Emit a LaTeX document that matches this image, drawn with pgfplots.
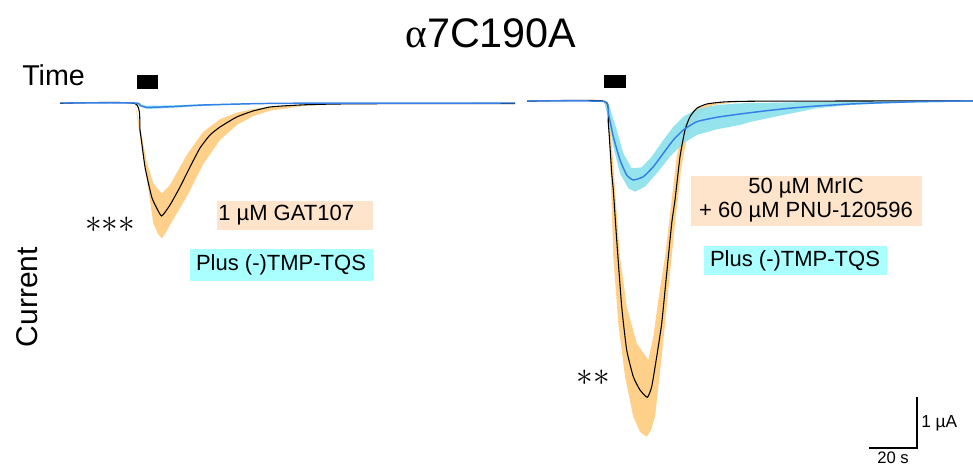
\documentclass[border=0pt]{standalone}
\usepackage{pgfplots}
\pgfplotsset{compat=1.18}
\usepackage{fontspec}
\setmainfont{Liberation Sans}
\newfontfamily\greekserif{Liberation Serif}
\definecolor{bandorange}{HTML}{FFD08A}
\definecolor{bandcyan}{HTML}{8CE1EC}
\definecolor{boxpeach}{HTML}{FDE4CA}
\definecolor{boxcyan}{HTML}{AAFFFF}
\definecolor{traceblue}{HTML}{3580E6}
\begin{document}
\begin{tikzpicture}
\useasboundingbox (0,0) rectangle (729.75pt,348.75pt);
\begin{axis}[at={(0,0)}, anchor=south west, scale only axis,
  width=729.75pt, height=348.75pt,
  xmin=0, xmax=973, ymin=0, ymax=465, y dir=reverse,
  hide axis, clip=false]

% ---------- left panel ----------
% orange band (GAT107)
\addplot[draw=none, fill=bandorange] coordinates {
 (135,103.3) (140,136.7) (146.7,178.3) (153.3,223.3) (158,234) (161.7,238.3) (165,234) (170,225)
 (186.7,196.7) (203.3,164) (220,140) (236.7,125) (253.3,116) (270,110.7)
 (303.3,106) (336.7,104) (380,103.3)
 (336.7,103.5) (303.3,104.7) (270,106.7) (253.3,109) (236.7,112.7) (220,119.3)
 (203.3,131.7) (186.7,155) (170,185) (161.7,193.3) (153.3,183.3) (146.7,161.7)
 (140,126.7)} -- cycle;
% cyan band (plus TMP-TQS)
\addplot[draw=none, fill=bandcyan] coordinates {
 (135,103) (146.7,105.8) (170,105.4) (203,104.3) (253,103.3)
 (253,104.1) (203,105.9) (170,108) (146.7,109) (135,103.6)} -- cycle;
% black mean trace
\addplot[black, line width=0.8pt, smooth, tension=0.3] coordinates {
 (60,103.3) (135,103.5) (140,130) (145,167) (151.7,197) (156.7,208) (161.7,216)
 (170,205) (180,187) (190,167) (200,148) (210,135) (220,127) (236.7,117)
 (253,111) (270,107) (286.7,105.7) (306.7,104.7) (336.7,104) (400,103.6) (515,103.5)};
% blue mean trace
\addplot[traceblue, line width=1.1pt, smooth, tension=0.3] coordinates {
 (60,103) (135,103) (140,105.5) (146.7,107.3) (170,106.7) (203,105)
 (253,103.7) (300,103.2) (515,103)};
% stimulus bar
\addplot[draw=none, fill=black] coordinates {(137,75) (158,75) (158,89) (137,89)} -- cycle;

% ---------- right panel ----------
% orange band (MrIC + PNU)
\addplot[draw=none, fill=bandorange] coordinates {
 (604,101) (607,112) (609,135) (610.5,170) (611.5,200) (613.3,256.7)
 (618.3,323.3) (625,376.7) (633.3,416.7) (640,432) (646.7,436.7) (651,430)
 (655,416.7) (661.7,356.7) (668.3,290) (675,223.3) (678.3,195) (681,170)
 (683.3,156.7) (686,142) (690,130) (700,113.3) (713.3,105) (740,101.7) (780,101)
 (760,101.1) (710,103.3) (693.3,110) (683.3,126.7) (676.7,156.7) (671.7,200)
 (665,256.7) (658.3,300) (653.3,336.7) (648.3,360) (636.7,343.3) (626.7,306.7)
 (620,256.7) (615,190) (613,160) (610.5,130) (608,112) (605,102)} -- cycle;
% cyan band (plus TMP-TQS)
\addplot[draw=none, fill=bandcyan, fill opacity=0.92] coordinates {
 (604,101) (610,108.3) (616.7,130) (623.3,153.3) (631.7,168.3) (641.7,167.3)
 (651.7,156.7) (663.3,140) (673.3,126.7) (683.3,116.7) (696.7,109.3) (716.7,105)
 (740,103.3) (773,102.7) (806.7,102) (880,101) (973,100.3)
 (973,101.5) (916.7,102.5) (883,103.5) (850,105) (816.7,108.3) (783,115)
 (750,122) (740,125) (716.7,129.3) (696.7,135) (683.3,143.3) (670,156.7)
 (656.7,173.3) (645,186.7) (635,191.7) (628.3,188.3) (620,173.3) (613.3,146.7)
 (608.3,118.3) (604,101.7)} -- cycle;
% black mean trace
\addplot[black, line width=0.8pt, smooth, tension=0.3] coordinates {
 (527,101.2) (604,101.2) (608.3,123.3) (611.7,173.3) (613.3,190) (616.7,240)
 (621.7,306.7) (626.7,350) (633.3,376.7) (640,390) (647.3,397.3) (651.7,386.7)
 (656.7,356.7) (661.7,323.3) (666.7,273.3) (671.7,223.3) (675,200) (680,156.7)
 (685,130) (690,116.7) (696.7,108.3) (706.7,104) (723.3,102) (756.7,101.2) (973,100.8)};
% blue mean trace
\addplot[traceblue, line width=1.1pt, smooth, tension=0.3] coordinates {
 (527,101) (604,101.5) (608.3,113.3) (613.3,136.7) (620,160) (626.7,175)
 (633.3,180) (643.3,176.7) (653.3,166.7) (663.3,153.3) (673.3,140) (683.3,130)
 (696.7,121.7) (716.7,117.3) (740,114) (766.7,110.7) (790,108.2) (816.7,106)
 (850,104) (883,102.7) (916.7,101.7) (973,100.8)};
% stimulus bar
\addplot[draw=none, fill=black] coordinates {(604,75) (626,75) (626,88) (604,88)} -- cycle;

% ---------- scale bar ----------
\addplot[black, line width=1pt] coordinates {(869,448) (917,448) (917,397)};
\node[anchor=west, font=\fontsize{13}{15}\selectfont, inner sep=0pt] at (axis cs:921,423) {1 µA};
\node[anchor=base, font=\fontsize{12.5}{14}\selectfont, inner sep=0pt] at (axis cs:893,463) {20 s};

% ---------- labels ----------
\fill[boxpeach] (axis cs:217,201) rectangle (axis cs:373,230);
\node[anchor=west, inner sep=0pt, font=\fontsize{16.5}{19}\selectfont] at (axis cs:218,215.5) {1 µM GAT107};
\fill[boxcyan] (axis cs:190,249) rectangle (axis cs:373,281);
\node[anchor=center, inner sep=0pt, font=\fontsize{16.5}{19}\selectfont] at (axis cs:281,265) {Plus (-)TMP-TQS};
\fill[boxpeach] (axis cs:691,176) rectangle (axis cs:922,226);
\node[anchor=center, inner sep=0pt, align=center, font=\fontsize{16.5}{18}\selectfont] at (axis cs:806,200) {50 µM MrIC\\+ 60 µM PNU-120596};
\fill[boxcyan] (axis cs:704,246) rectangle (axis cs:887,275);
\node[anchor=center, inner sep=0pt, font=\fontsize{16.5}{19}\selectfont] at (axis cs:795,260.5) {Plus (-)TMP-TQS};

\node[anchor=center, inner sep=0pt, font=\fontsize{23}{25}\selectfont] at (axis cs:110,225) {${\ast}{\ast}{\ast}$};
\node[anchor=center, inner sep=0pt, font=\fontsize{23}{25}\selectfont] at (axis cs:593,378) {${\ast}{\ast}$};

\node[anchor=base west, inner sep=0pt, font=\fontsize{21.5}{23}\selectfont] at (axis cs:22,85) {Time};
\node[anchor=base, rotate=90, inner sep=0pt, font=\fontsize{22.5}{24}\selectfont] at (axis cs:37,297) {Current};
\node[anchor=base, inner sep=0pt, font=\fontsize{31}{34}\selectfont] at (axis cs:491,47) {{\greekserif α}7C190A};
\end{axis}
\end{tikzpicture}
\end{document}
